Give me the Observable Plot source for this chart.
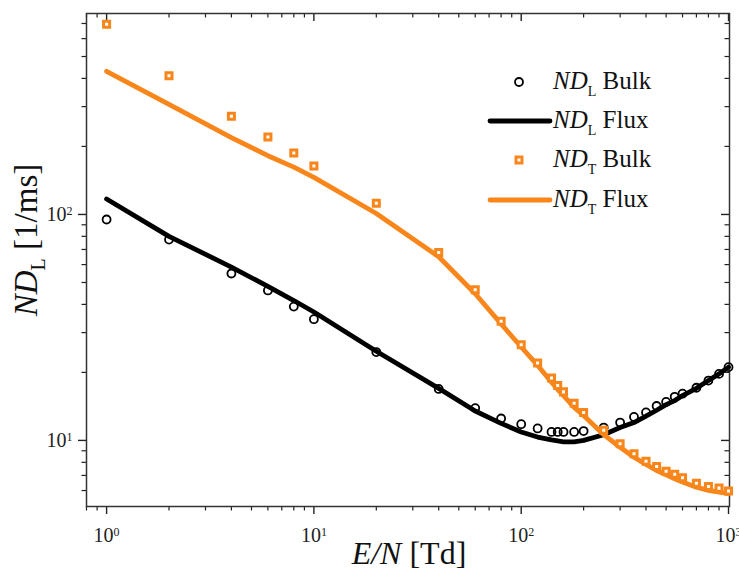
<!DOCTYPE html>
<html>
<head>
<meta charset="utf-8">
<script src="https://cdn.jsdelivr.net/npm/d3@7"></script>
<script src="https://cdn.jsdelivr.net/npm/@observablehq/plot@0.6"></script>
<style>
  html, body { margin: 0; padding: 0; background: #fff; }
  #chart { width: 739px; height: 572px; }
</style>
</head>
<body>
<div id="chart"></div>
<script>
// E/N values [Td]
const en = [1, 2, 4, 6, 8, 10, 20, 40, 60, 80, 100, 120, 140, 150, 160, 180, 200, 250, 300, 350, 400, 450, 500, 550, 600, 700, 800, 900, 1000];
// ND_L bulk (circles)
const ndLBulk = [95, 77.4, 54.8, 46.1, 39.1, 34.4, 24.6, 16.9, 13.9, 12.5, 11.8, 11.3, 10.9, 10.9, 10.9, 10.9, 11.0, 11.4, 12.0, 12.7, 13.3, 14.2, 14.8, 15.6, 16.1, 17.1, 18.4, 19.7, 21.1];
// ND_L flux (black line)
const ndLFlux = [117, 80, 58.5, 48, 41.6, 37, 24.8, 17.0, 13.5, 11.9, 10.9, 10.35, 10.05, 9.95, 9.85, 9.85, 10.0, 10.6, 11.4, 12.0, 12.8, 13.6, 14.4, 15.0, 15.8, 17.0, 18.4, 19.7, 21.1];
// ND_T bulk (squares)
const ndTBulk = [695, 411, 272, 220, 187, 164, 112, 67.8, 46.4, 33.7, 26.5, 22.0, 18.9, 17.5, 16.4, 14.6, 13.3, 11.1, 9.66, 8.72, 8.09, 7.67, 7.30, 7.08, 6.84, 6.47, 6.25, 6.15, 5.97];
// ND_T flux (orange line)
const ndTFlux = [430, 307, 219, 182, 162, 146, 101, 65, 44.6, 32.8, 25.9, 21.5, 18.1, 16.8, 15.8, 14.0, 12.9, 10.6, 9.33, 8.43, 7.83, 7.36, 7.05, 6.77, 6.54, 6.21, 6.01, 5.90, 5.81];

const xMajor = [1, 10, 100, 1000];
const xMinor = [0.8, 0.9, 2, 3, 4, 5, 6, 7, 8, 9, 20, 30, 40, 50, 60, 70, 80, 90, 200, 300, 400, 500, 600, 700, 800, 900];
const yMajor = [10, 100];
const yMinor = [6, 7, 8, 9, 20, 30, 40, 50, 60, 70, 80, 90, 200, 300, 400, 500, 600, 700];

const ORANGE = "#f8861a";
const W = 739, H = 572, ML = 86, MR = 10, MT = 13, MB = 66;
const innerW = W - ML - MR, innerH = H - MT - MB;

const rows = en.map((e, i) => ({en: e, lb: ndLBulk[i], lf: ndLFlux[i], tb: ndTBulk[i], tf: ndTFlux[i]}));
const expFmt = d => "10^" + Math.round(Math.log10(d));

const svg = Plot.plot({
  width: W, height: H,
  marginLeft: ML, marginRight: MR, marginTop: MT, marginBottom: MB,
  style: {fontFamily: "'Liberation Serif', 'Times New Roman', serif", fontSize: "20px", color: "#222", background: "#fff"},
  x: {type: "log", domain: [0.8, 1011], label: null},
  y: {type: "log", domain: [5.1, 775], label: null},
  marks: [
    Plot.axisX(xMajor, {tickSize: 8, tickPadding: 13, tickFormat: expFmt, fontSize: 20, strokeWidth: 1.4, label: null}),
    Plot.axisX(xMinor, {tickSize: 4.5, tickFormat: () => "", strokeWidth: 1.2, label: null}),
    Plot.axisY(yMajor, {tickSize: 8, tickPadding: 6, tickFormat: expFmt, fontSize: 20, strokeWidth: 1.4, label: null}),
    Plot.axisY(yMinor, {tickSize: 4.5, tickFormat: () => "", strokeWidth: 1.2, label: null}),
    Plot.ruleX(xMajor, {insetBottom: innerH - 8, stroke: "#222", strokeWidth: 1.4}),
    Plot.ruleX(xMinor, {insetBottom: innerH - 4.5, stroke: "#222", strokeWidth: 1.2}),
    Plot.ruleY(yMajor, {insetLeft: innerW - 8, stroke: "#222", strokeWidth: 1.4}),
    Plot.ruleY(yMinor, {insetLeft: innerW - 4.5, stroke: "#222", strokeWidth: 1.2}),
    Plot.frame({stroke: "#333", strokeWidth: 1.5}),
    Plot.line(rows, {x: "en", y: "lf", stroke: "#000", strokeWidth: 4.8, strokeLinejoin: "round"}),
    Plot.dot(rows, {x: "en", y: "lb", r: 4, stroke: "#000", strokeWidth: 1.8, fill: "none"}),
    Plot.line(rows, {x: "en", y: "tf", stroke: ORANGE, strokeWidth: 4.8, strokeLinejoin: "round"}),
    Plot.dot(rows, {x: "en", y: "tb", r: 3.4, symbol: "square", stroke: ORANGE, strokeWidth: 3, fill: "#fff"})
  ]
});

const s = d3.select(svg);
// superscripts on tick labels
s.selectAll("text").each(function() {
  const t = d3.select(this);
  const txt = t.text();
  if (txt.includes("^")) {
    const [base, ex] = txt.split("^");
    t.text(base);
    t.append("tspan").attr("font-size", 12).attr("dy", "-0.5em").text(ex);
  }
});

const FONT = "'Liberation Serif', 'Times New Roman', serif";
// Axis titles
const xt = s.append("text").attr("x", 409).attr("y", 564).attr("text-anchor", "middle")
  .attr("font-family", FONT).attr("font-size", 32).attr("fill", "#111");
xt.append("tspan").attr("font-style", "italic").text("E/N");
xt.append("tspan").text(" [Td]");

const yt = s.append("text").attr("transform", "translate(37,240) rotate(-90)").attr("text-anchor", "middle")
  .attr("font-family", FONT).attr("font-size", 33).attr("fill", "#111");
yt.append("tspan").attr("font-style", "italic").text("ND");
yt.append("tspan").attr("font-size", 20).attr("dy", 8).text("L");
yt.append("tspan").attr("dy", -8).text(" [1/ms]");

// Legend
const lg = s.append("g").attr("font-family", FONT).attr("font-size", 25).attr("fill", "#111").attr("text-anchor", "start");
const items = [
  {type: "circle", y: 82, sub: "L", word: "Bulk"},
  {type: "lineK", y: 121, sub: "L", word: "Flux"},
  {type: "square", y: 160, sub: "T", word: "Bulk"},
  {type: "lineO", y: 200, sub: "T", word: "Flux"}
];
items.forEach(it => {
  if (it.type === "circle") {
    lg.append("circle").attr("cx", 519).attr("cy", it.y).attr("r", 4).attr("fill", "none").attr("stroke", "#000").attr("stroke-width", 1.8);
  } else if (it.type === "square") {
    lg.append("rect").attr("x", 516).attr("y", it.y - 3).attr("width", 6).attr("height", 6).attr("fill", "#fff").attr("stroke", ORANGE).attr("stroke-width", 3);
  } else {
    lg.append("line").attr("x1", 490).attr("x2", 550).attr("y1", it.y).attr("y2", it.y)
      .attr("stroke", it.type === "lineK" ? "#000" : ORANGE).attr("stroke-width", 4.8).attr("stroke-linecap", "round");
  }
  const t = lg.append("text").attr("x", 553).attr("y", it.y + 7).attr("text-anchor", "start");
  t.append("tspan").attr("font-style", "italic").text("ND");
  t.append("tspan").attr("font-size", 14).attr("dy", 7).text(it.sub);
  t.append("tspan").attr("dy", -7).text(" " + it.word);
});

document.getElementById("chart").appendChild(svg);
</script>
</body>
</html>
